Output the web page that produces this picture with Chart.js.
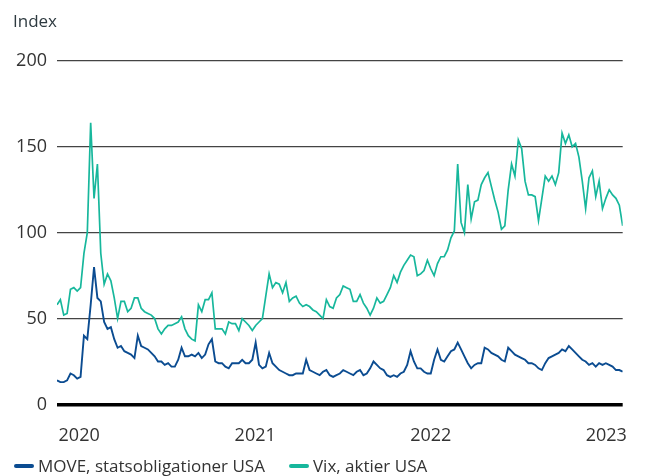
<!DOCTYPE html>
<html>
<head>
<meta charset="utf-8">
<script src="https://cdn.jsdelivr.net/npm/chart.js@4.4.0/dist/chart.umd.min.js"></script>
<style>
  html, body { margin: 0; padding: 0; background: #fff; }
  #wrap { position: relative; width: 648px; height: 476px; font-family: 'Open Sans', sans-serif; color: #333; }
  #yTitle { position: absolute; left: 13px; top: 9px; font-size: 17px; color: #2e3a40; }
  #legend { position: absolute; left: 14px; top: 454px; font-size: 17px; white-space: nowrap; }
  #legend span.item { display: inline-block; margin-right: 24px; }
  #legend i { display: inline-block; width: 20px; height: 4px; border-radius: 2px; vertical-align: middle; margin-right: 4px; position: relative; top: -1px; }
</style>
</head>
<body>
<div id="wrap">
  <div id="yTitle">Index</div>
  <canvas id="chart"></canvas>
  <div id="legend"></div>
</div>
<script>
// weekly observations, first one Saturday 16 Nov 2019
const startDate = Date.UTC(2019, 10, 16);
const DAY = 86400000;

const moveValues = [
  14, 13, 13, 14, 18, 17, 15, 16, 40, 38, 58, 80, 62, 60, 48, 44, 45, 38, 33, 34, 31, 30, 29, 27, 40, 34, 33, 32, 30, 28,
  25, 25, 23, 24, 22, 22, 26, 33, 28, 28, 29, 28, 30, 27, 29, 35, 38, 25, 24, 24, 22, 21, 24, 24, 24, 26, 24, 24, 26, 36,
  23, 21, 22, 30, 24, 22, 20, 19, 18, 17, 17, 18, 18, 18, 26, 20, 19, 18, 17, 19, 20, 17, 16, 17, 18, 20, 19, 18, 17, 19,
  20, 17, 18, 21, 25, 23, 21, 20, 17, 16, 17, 16, 18, 19, 23, 31, 25, 21, 21, 19, 18, 18, 26, 32, 26, 25, 28, 31, 32, 36,
  32, 28, 24, 21, 23, 24, 24, 33, 32, 30, 29, 28, 26, 25, 33, 31, 29, 28, 27, 26, 24, 24, 23, 21, 20, 24, 27, 28, 29, 30,
  32, 31, 34, 32, 30, 28, 26, 25, 23, 24, 22, 24, 23, 24, 23, 22, 20, 20, 19
];

const vixValues = [
  58, 61, 52, 53, 67, 68, 66, 68, 88, 100, 164, 120, 140, 88, 70, 76, 72, 62, 50, 60, 60, 54, 56, 62, 62, 56, 54, 53, 52, 50,
  44, 41, 44, 46, 46, 47, 48, 51, 44, 40, 38, 37, 58, 54, 61, 61, 65, 44, 44, 44, 41, 48, 47, 47, 43, 50, 48, 46, 43, 46,
  48, 50, 63, 76, 68, 71, 70, 65, 71, 60, 62, 63, 59, 57, 58, 57, 55, 54, 52, 50, 61, 57, 56, 62, 64, 69, 68, 67, 60, 60,
  64, 59, 56, 52, 56, 62, 59, 60, 64, 68, 75, 71, 77, 81, 84, 87, 86, 75, 76, 78, 84, 79, 75, 82, 86, 86, 90, 97, 101, 140,
  106, 100, 128, 108, 118, 119, 128, 132, 135, 127, 119, 112, 102, 104, 125, 140, 133, 154, 149, 130, 122, 122, 121, 107, 120, 133, 130, 133, 128, 135,
  158, 152, 157, 150, 152, 144, 130, 114, 132, 136, 121, 130, 114, 120, 125, 122, 120, 116, 104
];

const seriesLabels = ['MOVE, statsobligationer USA', 'Vix, aktier USA'];
const seriesColors = ['#0b4c91', '#17b79c'];
const yearTicks = [2020, 2021, 2022, 2023];
const yTicks = [0, 50, 100, 150, 200];

const weekDates = moveValues.map((v, i) => startDate + i * 7 * DAY);
const toPoints = vals => vals.map((v, i) => ({ x: weekDates[i], y: v }));

new Chart(document.getElementById('chart'), {
  type: 'line',
  data: {
    datasets: [
      {
        label: seriesLabels[0],
        data: toPoints(moveValues),
        borderColor: seriesColors[0],
        borderWidth: 1.9,
        pointRadius: 0,
        tension: 0
      },
      {
        label: seriesLabels[1],
        data: toPoints(vixValues),
        borderColor: seriesColors[1],
        borderWidth: 1.7,
        pointRadius: 0,
        tension: 0
      }
    ]
  },
  options: {
    responsive: true,
    maintainAspectRatio: false,
    animation: false,
    layout: { padding: { left: 13, right: 3, top: 61, bottom: 8 } },
    plugins: {
      legend: { display: false },
      tooltip: { enabled: false }
    },
    scales: {
      x: {
        type: 'linear',
        min: weekDates[0],
        max: weekDates[weekDates.length - 1],
        afterBuildTicks: axis => {
          axis.ticks = yearTicks.map(y => ({ value: Date.UTC(y, 0, 1) }));
        },
        ticks: {
          autoSkip: false,
          maxRotation: 0,
          padding: 21,
          color: '#333',
          font: { family: 'Open Sans', size: 18 },
          callback: v => new Date(v).getUTCFullYear()
        },
        grid: { display: false, drawTicks: false },
        border: { display: false }
      },
      y: {
        min: 0,
        max: 200,
        afterBuildTicks: axis => {
          axis.ticks = yTicks.map(v => ({ value: v }));
        },
        afterFit: axis => { axis.width = 44; },
        ticks: {
          padding: 10,
          color: '#333',
          font: { family: 'Open Sans', size: 18 }
        },
        grid: {
          drawTicks: false,
          color: ctx => ctx.tick && ctx.tick.value === 0 ? '#000' : '#444',
          lineWidth: ctx => ctx.tick && ctx.tick.value === 0 ? 3.5 : 1.2
        },
        border: { display: false }
      }
    }
  }
});

// legend below the chart
const legend = document.getElementById('legend');
legend.innerHTML = seriesLabels.map((t, i) =>
  `<span class="item"><i style="background:${seriesColors[i]}"></i>${t}</span>`
).join('');
</script>
</body>
</html>
